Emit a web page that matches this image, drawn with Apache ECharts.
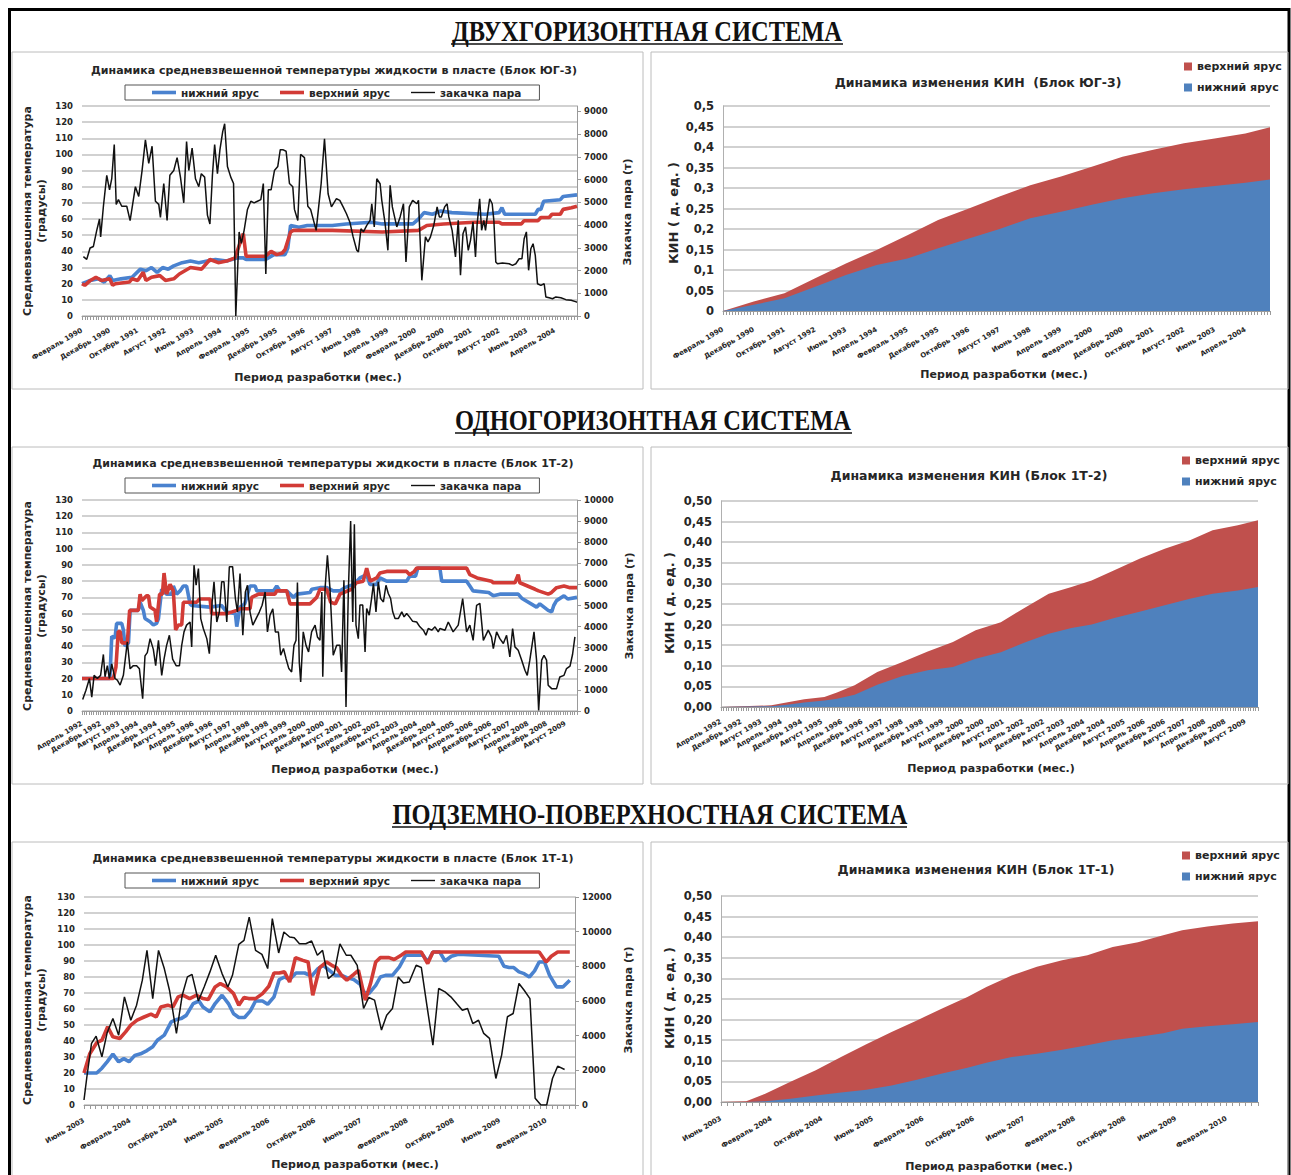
<!DOCTYPE html>
<html>
<head>
<meta charset="utf-8">
<script src="https://cdn.jsdelivr.net/npm/echarts@6/dist/echarts.min.js"></script>
<style>
  html, body { margin: 0; padding: 0; background: #fff; }
  #c { width: 1291px; height: 1175px; }
</style>
</head>
<body>
<div id="c"></div>
<script>
// ---------- month axes ----------
const MONTHS = ['Январь','Февраль','Март','Апрель','Май','Июнь','Июль','Август','Сентябрь','Октябрь','Ноябрь','Декабрь'];
function monthLabels(year, month, count) {
  const out = [];
  for (let i = 0; i < count; i++) {
    const k = month + i;
    out.push(MONTHS[k % 12] + ' ' + (year + Math.floor(k / 12)));
  }
  return out;
}
const CATS_UG3 = monthLabels(1990, 1, 179);   // Февраль 1990 ...
const CATS_1T2 = monthLabels(1992, 3, 214);   // Апрель 1992 ...
const CATS_1T1 = monthLabels(2003, 5, 86);    // Июнь 2003 ...
const STEP_UG3 = 10, STEP_1T2 = 8, STEP_1T1 = 8;

// ---------- Блок ЮГ-3: temperature (°) and steam injection (т) ----------
const UG3_LOW = [[0,20],[3,22],[6,23],[8,21],[10,25],[11,22],[14,23],[18,24],[21,29],[23,28],[25,30],[27,27],[29,30],[31,29],[33,31],[36,33],[39,34],[42,33],[45,34],[48,35],[52,34],[56,36],[58,36],[59,35],[66,35],[67,36],[69,38],[73,38],[74,42],[75,56],[78,55],[81,56],[90,56],[95,57],[104,58],[108,57],[119,57],[121,60],[123,64],[126,63],[129,65],[133,64],[145,63],[150,64],[151,67],[152,63],[163,63],[164,66],[165,66],[166,71],[172,72],[173,74],[178,75]];
const UG3_UP = [[0,20],[1,19],[3,22],[5,24],[7,22],[10,23],[11,19],[12,20],[17,21],[18,23],[20,22],[22,27],[23,22],[25,24],[28,25],[30,22],[33,23],[35,26],[39,30],[43,29],[46,35],[49,33],[52,34],[55,36],[57,46],[58,51],[59,37],[66,37],[68,40],[70,38],[72,39],[73,41],[75,52],[76,53],[90,53],[108,52],[121,53],[124,56],[130,57],[141,58],[150,58],[151,57],[158,57],[159,59],[164,59],[165,61],[168,61],[169,63],[172,63],[173,66],[176,67],[178,68]];
const UG3_STEAM = [[0.5,2610],[1.7,2490],[2.9,2990],[4.1,3060],[5.3,3770],[6.3,4270],[6.7,3480],[7.7,4830],[8.9,6190],[9.9,5550],[10.7,6040],[11.6,7540],[12.3,4910],[13.1,5120],[14.3,4830],[16.1,4830],[17.3,4200],[19.2,5690],[20.4,5260],[21.6,6400],[22.8,7750],[24,6720],[25.2,7470],[26.4,5050],[27.6,4910],[28.2,4340],[29.4,5830],[30.6,4200],[31.6,6190],[33,6400],[34.2,6970],[35.4,6110],[36.6,4980],[37.6,7680],[38.4,6400],[39.6,7390],[40.8,6040],[42,5690],[42.9,6260],[44.1,6110],[45.1,4440],[46,4050],[46.9,6190],[47.7,7540],[48.7,6260],[49.6,7320],[50.6,8110],[51.3,8460],[52.3,6580],[53.5,6110],[54.5,5830],[55.3,0],[56.5,3700],[57.3,3200],[58.3,3770],[59.5,4690],[60.7,5050],[61.9,4980],[63.1,5050],[64.3,5120],[65.2,5830],[66.1,1850],[67,5550],[68,5550],[69.2,6400],[70.4,6580],[71.3,7320],[72.2,7320],[73.4,7250],[74.6,5830],[75.8,5690],[76.4,4690],[77.6,4200],[78.6,7110],[80,6970],[81.2,4830],[82.2,4690],[84.2,3770],[86,5830],[87.2,7800],[88.5,5380],[89.7,4800],[91.5,5160],[92.7,5090],[93.9,4800],[95.1,4500],[96.3,4140],[97.5,3480],[98.8,2890],[99.4,2820],[100.3,3840],[101.2,3700],[102.4,3990],[103.6,4210],[104.2,4940],[105.1,3920],[106,6040],[107.2,5820],[107.8,5090],[109,4060],[110,2890],[110.8,5750],[111.6,4800],[112.4,4360],[113.2,3920],[114.4,4360],[115.6,4940],[116.5,2380],[117.7,4800],[118.9,5090],[120.4,4940],[121,5090],[122.2,1570],[123.5,3480],[124.4,3260],[125.3,3480],[126.5,3990],[127.7,4800],[128.5,4360],[129.2,4360],[130.4,4800],[131.3,4940],[131.9,4360],[133.1,3770],[134.3,2600],[135.3,4210],[136.1,1790],[137,3620],[137.9,3920],[138.9,2890],[139.7,3330],[140.6,4140],[141.5,2600],[142.1,4060],[143,5160],[143.7,3770],[144.5,4210],[145.1,3770],[145.7,4360],[146.6,5160],[147.5,4940],[148.1,4210],[148.8,2380],[149.4,2300],[151.2,2330],[153.6,2300],[154.8,2230],[156,2300],[157.2,2520],[158.2,2520],[159,3400],[159.8,3700],[160.6,2010],[161.4,2960],[162.2,3180],[163,2670],[163.8,1420],[165,1350],[166.2,1420],[166.8,840],[168,800],[169.2,760],[170.4,840],[172.2,800],[174,720],[175.9,690],[177.7,620],[178,620]];

// ---------- Блок ЮГ-3: КИН ----------
const KIN_UG3_X   = [0,10,20,30,40,50,60,70,80,90,100,110,120,130,140,150,160,170,178];
const KIN_UG3_LOW = [0,0.015,0.031,0.059,0.088,0.112,0.128,0.153,0.177,0.200,0.226,0.242,0.259,0.275,0.287,0.297,0.305,0.313,0.321];
const KIN_UG3_UP  = [0,0.008,0.012,0.021,0.028,0.037,0.057,0.069,0.073,0.079,0.081,0.086,0.093,0.101,0.106,0.112,0.116,0.120,0.127];

// ---------- Блок 1Т-2: temperature and steam ----------
const T2_LOW = [[0,20],[12,20],[12.8,46],[14.2,45],[14.9,54],[17.1,54],[17.8,50],[18.5,40],[20,42],[20.7,62],[24.2,62],[25,67],[26.4,62],[27.1,57],[29.3,55],[30.7,53],[32.1,54],[32.9,57],[34.3,75],[36.4,72],[38.6,72],[39.3,77],[40.7,72],[42.2,74],[43.6,77],[45,77],[46.5,66],[47.2,65],[55,64],[60,65],[62.3,61],[66,60],[66.6,52],[68,64],[70,66],[72.3,77],[74.5,77],[75.2,74],[82.4,74],[83.8,77],[85.2,74],[88.1,74],[91,70],[92.4,72],[98.1,73],[98.9,75],[102.4,76],[105.3,76],[108.1,74],[111,74],[113,76],[117,78],[119.6,82],[122.5,84],[123.9,78],[126.8,78],[128.2,82],[131.1,80],[139.7,80],[141,83],[143.5,83],[144.5,88],[154,88],[154.8,80],[165.5,80],[166.9,77],[168.3,74],[175,73],[177,71],[179.8,72],[187.7,72],[189.2,69.5],[195.6,64],[197,66],[200.6,62],[202.1,61],[203,65],[204.2,68],[207.4,71],[209,69],[213,70]];
const T2_UP = [[0,20],[13.5,20],[14.6,27],[15.6,49],[16.4,49],[17.1,42],[19.5,42],[20.5,62],[24.2,62],[25,72],[25.7,68],[27.8,71],[28.6,71],[29.3,64],[31.4,62],[32.1,55],[33.4,72],[34.6,72],[35.3,85],[36.4,72],[37.9,78],[39.3,74],[40.3,50],[41.5,53],[42.9,53],[43.6,67],[49.4,67],[50.5,69],[55.1,69],[55.8,60],[62.3,60],[66.6,62],[68,63],[72.3,63],[73,70],[76,72],[83,72],[83.8,74],[88.1,74],[89.5,66],[98.1,66],[101,70],[102.4,75],[105.3,75],[107,67],[109,66],[111,72],[116,75],[118,79],[121,80],[122.5,88],[124,80],[126.8,82],[128.2,85],[131.1,86],[139.7,86],[141,84],[143,86],[144,88],[165.5,88],[166.9,84],[170,82],[176.2,80],[177,79],[186.3,79],[187.7,84],[188.4,79],[195,75],[196.5,74],[200.6,72],[202,73],[204.2,76],[207.4,77],[210,76],[213,76]];
const T2_STEAM = [[0.3,550],[1.7,980],[3.2,1540],[4.2,660],[5.2,1690],[6.6,1540],[8,1690],[9.2,2680],[9.9,1620],[10.9,2150],[11.8,1540],[12.8,2230],[14.2,1540],[15.2,1460],[16.4,1230],[17.8,1690],[19.5,3280],[20.7,2000],[22.1,2150],[23.5,2150],[24.7,2000],[26.1,580],[27.1,2610],[28.1,2770],[29.3,3430],[30.7,2920],[31.7,2150],[32.9,3350],[34.3,1690],[35.3,2460],[36.4,3110],[37.6,3590],[39,2460],[40.5,2150],[41.9,2140],[42.9,3110],[43.9,3750],[45,4070],[46.5,4220],[47.2,3040],[48.2,6910],[49.1,5960],[50.1,6750],[51.1,4380],[52.2,3910],[53.7,3430],[54.8,2720],[56,5180],[56.8,6120],[58,4220],[59.1,4690],[60.1,6120],[61.1,6120],[62.3,4220],[63.4,6840],[64.8,6840],[66,5330],[66.9,4690],[68,6510],[69.2,3590],[70.3,5640],[71.2,5960],[72.3,4690],[73.5,4070],[74.9,4380],[76.3,4690],[77.5,5010],[78.8,5640],[79.8,3750],[80.9,4540],[82.1,4840],[83.2,3750],[84.5,3750],[85.5,2640],[86.7,2960],[87.8,2480],[89,2010],[90.2,1850],[91.2,3110],[92.1,3350],[92.7,6090],[93.5,2310],[94.1,1380],[95.2,3750],[96.4,3110],[97.5,2800],[98.8,3750],[100.3,4070],[101.3,3510],[102.4,3350],[103.2,5640],[103.6,1620],[104.6,5810],[105.6,7380],[106.7,5810],[108.1,2640],[109.6,3120],[111,3120],[111.7,1850],[112.7,6200],[113.6,190],[114.6,5650],[115.6,9000],[116.5,4220],[117.2,8850],[117.9,4070],[118.9,3430],[119.6,5020],[120.8,5020],[121.8,2800],[122.5,4860],[123.6,4540],[124.6,5330],[125.4,6040],[126.5,4700],[127.5,6120],[128.5,5330],[129.7,5170],[130.8,5960],[131.8,5570],[132.8,5330],[133.7,4700],[134.7,4380],[136.1,4380],[137.6,4700],[138.6,4460],[139.7,4620],[140.9,4460],[142.3,4250],[144,4220],[145.4,3990],[146.9,3830],[148,3590],[149,3910],[150.5,3830],[151.9,3990],[153.3,3750],[154,3910],[156.2,3830],[157.6,4220],[159.7,3750],[161.9,4070],[163.8,5330],[165.5,3750],[166.9,4070],[168.3,3350],[169.8,5010],[171.2,5100],[172.7,3350],[174.8,3830],[176.2,3510],[177,2960],[178.4,3750],[179.8,3430],[181.3,3200],[182.7,3590],[184.1,2560],[185.3,3910],[186.3,3040],[187.7,2880],[189.2,2410],[190.6,1930],[191.6,1690],[192.7,2410],[194.5,3750],[195.6,2410],[196.5,30],[197.8,2410],[198.8,2640],[199.9,2410],[200.6,1220],[202.1,1060],[204.2,1060],[205.6,1610],[207.4,1690],[208.5,2010],[210,2130],[211.1,2690],[212.1,3510]];

// ---------- Блок 1Т-2: КИН ----------
const KIN_1T2_X   = [0,20,27,33,41,46,53,62,72,82,92,101,111,121,130,139,147,156,166,176,186,195,205,213];
const KIN_1T2_LOW = [0,0.002,0.006,0.011,0.016,0.020,0.030,0.054,0.075,0.089,0.097,0.117,0.133,0.158,0.178,0.192,0.200,0.216,0.231,0.247,0.263,0.275,0.283,0.291];
const KIN_1T2_UP  = [0,0.002,0.006,0.008,0.008,0.015,0.023,0.031,0.034,0.046,0.061,0.069,0.073,0.085,0.097,0.099,0.107,0.116,0.129,0.137,0.142,0.154,0.158,0.162];

// ---------- Блок 1Т-1: temperature and steam ----------
const T1_LOW = [[0,20],[2.2,20],[3.1,23],[4,27],[5,31.8],[6,27],[6.9,29],[7.8,27],[8.8,31],[9.8,32],[10.9,34],[11.9,36.4],[12.7,40.5],[13.9,43.7],[15.1,52],[16,53.4],[16.8,54],[17.7,56],[18.9,63.4],[19.9,65],[20.6,61.3],[21.8,58.2],[22.7,63.4],[23.9,68.6],[25,63.4],[25.9,57],[26.8,54.7],[27.8,54.7],[28.8,58.8],[29.7,65],[30.9,65],[31.8,63],[32.9,67.6],[33.8,78.4],[34.7,80],[35.6,78.4],[36.7,82.5],[38.2,82.5],[39.4,80.5],[40.5,85.2],[41.4,87.3],[42.6,83.8],[43.5,81],[44.6,81],[45.5,79.6],[46.7,78.4],[47.8,75.5],[48.4,70.7],[49.3,69.6],[50.5,74.8],[51.3,80],[52.2,81],[53.4,81],[54.6,86.3],[55.7,93.6],[58.7,93.6],[59.5,89.4],[60.4,95.6],[61.6,95.6],[62.5,90],[63.6,93],[64.8,94.2],[71.8,93],[72.7,86.7],[73.6,85.9],[74.4,85.9],[75.3,83.2],[76.2,82.1],[77.1,80],[78,83.8],[78.8,89.4],[79.7,89.4],[80.6,81],[81.8,73.8],[82.9,73.8],[84.1,78]];
const T1_UP = [[0,20],[1,32],[2.2,38.9],[3.1,40.5],[4.1,48.9],[5,42.6],[6.2,41.6],[7.2,45.7],[8.1,49.9],[9.2,53],[10.4,55],[11.6,56.8],[12.5,55],[13.3,61.3],[14.5,62.4],[15.4,61.3],[16.3,67.6],[17.1,68.6],[18.3,66.5],[19.5,68.6],[20.6,66.5],[21.5,65.9],[22.7,73.8],[23.6,75.9],[24.7,73.8],[25.9,69.6],[26.8,62.4],[27.7,67.2],[28.5,66.5],[29.7,66.5],[30.9,69.6],[32,74.2],[32.9,82.5],[33.8,82.5],[34.7,83.2],[35.6,76.9],[36.6,92.1],[37.9,90.4],[38.8,89.4],[39.6,68.6],[40.8,85.9],[42,89.4],[42.9,87.3],[43.7,85.9],[44.6,81],[45.5,78],[46.7,81.7],[47.5,84.2],[48.7,65.5],[49.6,75.9],[50.5,89.4],[51.3,92.1],[52.8,92.1],[53.7,90.9],[54.9,93.6],[55.7,95.6],[58.4,95.6],[59.5,88.4],[60.4,95.6],[78.8,95.6],[80,89.4],[80.9,93],[82,95.6],[84.1,95.6]];
const T1_STEAM = [[0,290],[0.5,1630],[1.3,3550],[2.1,3970],[3.1,2780],[4,4160],[5,4990],[6,4030],[7,6240],[8.1,4890],[9.1,5760],[10.1,7200],[10.9,8920],[11.9,6140],[12.9,8920],[13.9,7870],[14.8,6620],[16,4130],[17,6330],[17.9,7390],[18.7,7540],[19.8,6000],[20.8,6810],[21.8,7680],[22.8,8640],[23.9,7580],[24.9,6810],[25.7,7480],[26.8,9270],[27.7,9500],[28.6,10840],[29.7,8920],[30.8,8690],[31.8,7870],[32.6,10750],[33.7,8770],[34.6,9980],[35.6,9690],[36.4,9650],[37.3,9300],[38.4,9300],[39.4,9460],[40.4,8640],[41.3,8920],[42.3,7290],[43.3,7580],[44.3,9300],[45.4,8640],[46.2,8640],[47.3,8060],[48.4,5570],[49.3,6200],[50.3,6050],[51.5,4320],[52.4,5180],[53.4,5570],[54.4,7390],[55.3,7040],[56.3,7100],[57.5,8060],[58.4,7930],[59.4,5660],[60.4,3450],[61.4,6720],[62.5,6530],[63.5,6240],[64.5,5850],[65.5,5470],[66.4,5570],[67.3,4700],[68.3,4890],[69.2,4130],[70.2,3840],[71.3,1530],[72.3,2880],[73.3,5090],[74.3,5280],[75.3,7010],[76.2,6620],[77.2,6140],[78.1,390],[79.1,0],[80.1,0],[81.1,1530],[82,2240],[83.2,2050]];

// ---------- Блок 1Т-1: КИН ----------
const KIN_1T1_X   = [0,4,7,11,15,19,23,27,31,35,39,42,46,50,54,58,62,66,70,73,77,81,85];
const KIN_1T1_LOW = [0,0,0.002,0.008,0.016,0.023,0.030,0.040,0.054,0.069,0.083,0.095,0.109,0.117,0.127,0.138,0.150,0.158,0.167,0.178,0.184,0.189,0.194];
const KIN_1T1_UP  = [0,0.002,0.018,0.041,0.061,0.086,0.110,0.130,0.144,0.158,0.172,0.184,0.198,0.211,0.217,0.218,0.226,0.230,0.238,0.239,0.242,0.244,0.245];

// ---------- styling ----------
const FONT = "'DejaVu Sans', sans-serif";
const TXT = '#262626';
const C_LOW_LINE = '#4a82cf', C_UP_LINE = '#d23b36';
const C_LOW_AREA = '#4F81BD', C_UP_AREA = '#C0504D';
const GRID_C = '#c2c2c2', AXIS_C = '#9a9a9a';
const N_LOW = 'нижний ярус', N_UP = 'верхний ярус', N_STEAM = 'закачка пара';
const ICON_THICK = 'path://M0 0H24V3.6H0Z', ICON_THIN = 'path://M0 0H24V1.4H0Z';

const option = {
  animation: false,
  backgroundColor: '#fff',
  grid: [], xAxis: [], yAxis: [], series: [], legend: [],
  graphic: { elements: [] }
};
const G = option.graphic.elements;

function text(x, y, str, size, opts) {
  opts = opts || {};
  G.push({
    type: 'text', x: x, y: y, rotation: opts.rot || 0, scaleX: opts.sx || 1, z: 10,
    style: {
      text: str, fontFamily: opts.family || FONT, fontWeight: opts.weight || 'bold',
      fontSize: size, fill: opts.color || TXT, align: 'center', verticalAlign: 'middle',
      lineHeight: opts.lh || size * 1.25
    }
  });
}

function monthAxis(gi, cats, step, margin) {
  option.xAxis.push({
    type: 'value', gridIndex: gi, min: 0, max: cats.length - 1, interval: step,
    axisLine: { show: true, onZero: false, lineStyle: { color: AXIS_C, width: 1 } },
    axisTick: { show: true, length: 4, lineStyle: { color: AXIS_C } },
    minorTick: { show: true, splitNumber: step, length: 4, lineStyle: { color: AXIS_C } },
    splitLine: { show: false }, minorSplitLine: { show: false },
    axisLabel: {
      rotate: 30, margin: margin, fontFamily: FONT, fontWeight: 'bold', fontSize: 7, color: TXT,
      showMaxLabel: false,
      formatter: v => cats[Math.round(v)] || ''
    }
  });
}

function tempPanel(p) {
  const gi = option.grid.length;
  option.grid.push({ left: p.grid[0], top: p.grid[1], width: p.grid[2], height: p.grid[3] });
  const xi = option.xAxis.length;
  monthAxis(gi, p.cats, p.step, p.margin);
  const yl = option.yAxis.length;
  option.yAxis.push({
    type: 'value', gridIndex: gi, min: 0, max: 130, interval: 10, position: 'left',
    axisLine: { show: false }, axisTick: { show: false },
    splitLine: { lineStyle: { color: GRID_C, width: 1.5 } },
    axisLabel: { margin: 9, fontFamily: FONT, fontWeight: 'bold', fontSize: 8.5, color: TXT }
  });
  option.yAxis.push({
    type: 'value', gridIndex: gi, min: 0, max: p.rMax, interval: p.rStep, position: 'right',
    axisLine: { show: true, lineStyle: { color: AXIS_C } },
    axisTick: { show: true, length: 4, lineStyle: { color: AXIS_C } },
    splitLine: { show: false },
    axisLabel: { margin: 7, fontFamily: FONT, fontWeight: 'bold', fontSize: 8.5, color: TXT,
      showMaxLabel: p.rShowMax, formatter: v => String(v) }
  });
  option.series.push(
    { type: 'line', name: N_LOW, xAxisIndex: xi, yAxisIndex: yl, data: p.low, symbol: 'none', color: C_LOW_LINE, lineStyle: { width: 3.6, color: C_LOW_LINE }, z: 2 },
    { type: 'line', name: N_UP, xAxisIndex: xi, yAxisIndex: yl, data: p.up, symbol: 'none', color: C_UP_LINE, lineStyle: { width: 3.6, color: C_UP_LINE }, z: 3 },
    { type: 'line', name: N_STEAM, xAxisIndex: xi, yAxisIndex: yl + 1, data: p.steam, symbol: 'none', color: '#111', lineStyle: { width: 1.5, color: '#111' }, z: 4 }
  );
  option.legend.push({
    left: p.legend[0], top: p.legend[1], orient: 'horizontal', selectedMode: false,
    borderColor: '#555', borderWidth: 1, padding: [2, 18, 2, 27], itemGap: 21,
    itemWidth: 24, itemHeight: 12,
    textStyle: { fontFamily: FONT, fontWeight: 'bold', fontSize: 10.5, color: TXT },
    data: [
      { name: N_LOW, icon: ICON_THICK, itemStyle: { color: C_LOW_LINE } },
      { name: N_UP, icon: ICON_THICK, itemStyle: { color: C_UP_LINE } },
      { name: N_STEAM, icon: ICON_THIN, itemStyle: { color: '#111' } }
    ]
  });
  text(p.title[0], p.title[1], p.titleText, 11);
  text(p.yName[0], p.yName[1], 'Средневзвешенная температура\n(градусы)', 11, { rot: Math.PI / 2, lh: 14 });
  text(p.rName[0], p.rName[1], 'Закачка пара (т)', 11, { rot: Math.PI / 2 });
  text(p.xName[0], p.xName[1], 'Период разработки (мес.)', 11);
}

function kinPanel(p) {
  const gi = option.grid.length;
  option.grid.push({ left: p.grid[0], top: p.grid[1], width: p.grid[2], height: p.grid[3] });
  const xi = option.xAxis.length;
  monthAxis(gi, p.cats, p.step, p.margin);
  const yi = option.yAxis.length;
  option.yAxis.push({
    type: 'value', gridIndex: gi, min: 0, max: 0.5, interval: 0.05,
    axisLine: { show: true, lineStyle: { color: '#b0b0b0' } }, axisTick: { show: false },
    splitLine: { lineStyle: { color: GRID_C, width: 1.5 } },
    axisLabel: { margin: 9, fontFamily: FONT, fontWeight: 'bold', fontSize: 11.5, color: TXT, formatter: p.fmt }
  });
  // upper layer is drawn on top of the lower one (cumulative)
  option.series.push(
    { type: 'line', name: N_UP, xAxisIndex: xi, yAxisIndex: yi, symbol: 'none', color: C_UP_AREA,
      data: p.x.map((x, i) => [x, +(p.low[i] + p.up[i]).toFixed(4)]),
      lineStyle: { width: 0 }, areaStyle: { color: C_UP_AREA, opacity: 1 }, z: 2 },
    { type: 'line', name: N_LOW, xAxisIndex: xi, yAxisIndex: yi, symbol: 'none', color: C_LOW_AREA,
      data: p.x.map((x, i) => [x, p.low[i]]),
      lineStyle: { width: 0 }, areaStyle: { color: C_LOW_AREA, opacity: 1 }, z: 3 }
  );
  option.legend.push({
    left: p.legend[0], top: p.legend[1], orient: 'vertical', selectedMode: false,
    itemWidth: 8, itemHeight: 8, itemGap: 10, padding: 0,
    textStyle: { fontFamily: FONT, fontWeight: 'bold', fontSize: 11, color: TXT },
    data: [
      { name: N_UP, icon: 'rect', itemStyle: { color: C_UP_AREA } },
      { name: N_LOW, icon: 'rect', itemStyle: { color: C_LOW_AREA } }
    ]
  });
  text(p.title[0], p.title[1], p.titleText, 12.5);
  text(p.yName[0], p.yName[1], 'КИН ( д. ед. )', 13, { rot: Math.PI / 2 });
  text(p.xName[0], p.xName[1], 'Период разработки (мес.)', 11);
}

const fmtShort = v => String(Math.round(v * 100) / 100).replace('.', ',');
const fmtFixed = v => v.toFixed(2).replace('.', ',');

// ---------- frame, section headings, panel outlines ----------
G.push({ type: 'line', shape: { x1: 8, y1: 9.5, x2: 1290, y2: 9.5 }, style: { stroke: '#000', lineWidth: 3 } });
G.push({ type: 'line', shape: { x1: 9.5, y1: 8, x2: 9.5, y2: 1175 }, style: { stroke: '#000', lineWidth: 3 } });
G.push({ type: 'line', shape: { x1: 1289, y1: 8, x2: 1289, y2: 1175 }, style: { stroke: '#000', lineWidth: 3 } });
[[12, 52, 631, 337], [651, 52, 637, 337], [12, 447, 631, 337], [651, 447, 637, 337], [12, 842, 631, 340], [651, 842, 637, 340]]
  .forEach(r => G.push({ type: 'rect', shape: { x: r[0], y: r[1], width: r[2], height: r[3] }, style: { fill: 'none', stroke: '#bcbcbc', lineWidth: 1 } }));

const HEAD = [
  ['ДВУХГОРИЗОНТНАЯ СИСТЕМА', 647, 31, 451, 843, 44],
  ['ОДНОГОРИЗОНТНАЯ СИСТЕМА', 653, 420, 455, 852, 433],
  ['ПОДЗЕМНО-ПОВЕРХНОСТНАЯ СИСТЕМА', 650, 814, 392, 907, 827]
];
HEAD.forEach(h => {
  text(h[1], h[2], h[0], 30, { family: "'Liberation Serif', serif", color: '#111', sx: 0.815 });
  G.push({ type: 'line', shape: { x1: h[3], y1: h[5], x2: h[4], y2: h[5] }, style: { stroke: '#111', lineWidth: 1.5 } });
});

// ---------- panels ----------
tempPanel({
  grid: [82, 106, 495, 210], cats: CATS_UG3, step: STEP_UG3, margin: 14,
  rMax: 9240, rStep: 1000, rShowMax: false,
  low: UG3_LOW, up: UG3_UP, steam: UG3_STEAM,
  legend: [125, 85], title: [334, 70],
  titleText: 'Динамика средневзвешенной температуры жидкости в пласте (Блок ЮГ-3)',
  yName: [34, 211], rName: [627, 212], xName: [318, 377]
});
kinPanel({
  grid: [723, 106, 547, 205], cats: CATS_UG3, step: STEP_UG3, margin: 18, fmt: fmtShort,
  x: KIN_UG3_X, low: KIN_UG3_LOW, up: KIN_UG3_UP,
  legend: [1184, 61], title: [978, 82], titleText: 'Динамика изменения КИН  (Блок ЮГ-3)',
  yName: [673, 213], xName: [1004, 374]
});
tempPanel({
  grid: [82, 500, 495, 211], cats: CATS_1T2, step: STEP_1T2, margin: 12,
  rMax: 10000, rStep: 1000, rShowMax: true,
  low: T2_LOW, up: T2_UP, steam: T2_STEAM,
  legend: [125, 478], title: [333, 463],
  titleText: 'Динамика средневзвешенной температуры жидкости в пласте (Блок 1Т-2)',
  yName: [34, 606], rName: [629, 606], xName: [355, 769]
});
kinPanel({
  grid: [721, 501, 537, 206], cats: CATS_1T2, step: STEP_1T2, margin: 14, fmt: fmtFixed,
  x: KIN_1T2_X, low: KIN_1T2_LOW, up: KIN_1T2_UP,
  legend: [1182, 455], title: [969, 475], titleText: 'Динамика изменения КИН (Блок 1Т-2)',
  yName: [669, 603], xName: [991, 768]
});
tempPanel({
  grid: [84, 897, 491, 208], cats: CATS_1T1, step: STEP_1T1, margin: 15,
  rMax: 12000, rStep: 2000, rShowMax: true,
  low: T1_LOW, up: T1_UP, steam: T1_STEAM,
  legend: [125, 873], title: [333, 858],
  titleText: 'Динамика средневзвешенной температуры жидкости в пласте (Блок 1Т-1)',
  yName: [34, 1000], rName: [628, 1000], xName: [355, 1164]
});
kinPanel({
  grid: [721, 896, 537, 206], cats: CATS_1T1, step: STEP_1T1, margin: 16, fmt: fmtFixed,
  x: KIN_1T1_X, low: KIN_1T1_LOW, up: KIN_1T1_UP,
  legend: [1182, 850], title: [976, 869], titleText: 'Динамика изменения КИН (Блок 1Т-1)',
  yName: [669, 998], xName: [989, 1166]
});

const chart = echarts.init(document.getElementById('c'), null, { renderer: 'svg' });
chart.setOption(option);
</script>
</body>
</html>
